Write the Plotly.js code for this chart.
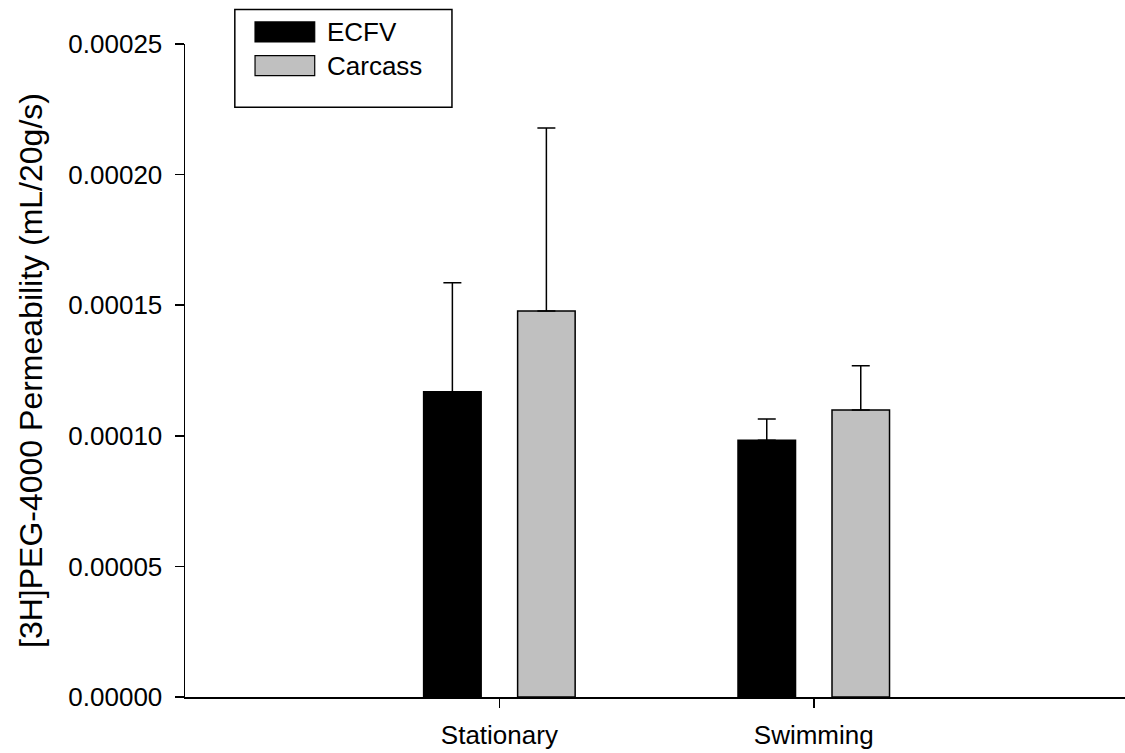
<!DOCTYPE html>
<html>
<head>
<meta charset="utf-8">
<script src="https://cdn.plot.ly/plotly-3.0.1.min.js"></script>
<style>
  html, body { margin: 0; padding: 0; background: #ffffff; }
  #chart { width: 1125px; height: 753px; }
</style>
</head>
<body>
<div id="chart"></div>
<script>
// Groups along the x axis
const groups = ['Stationary', 'Swimming'];

// Series names
const seriesNames = ['ECFV', 'Carcass'];

// Mean permeability (mL/20g/s)
const ecfvMean = [0.0001169, 0.0000983];
const carcassMean = [0.0001478, 0.0001099];

// Upper error (SEM) above each mean
const ecfvErr = [0.0000417, 0.0000081];
const carcassErr = [0.0000700, 0.0000169];

// Y axis tick values
const yTicks = [0, 0.00005, 0.00010, 0.00015, 0.00020, 0.00025];
const yTickText = ['0.00000', '0.00005', '0.00010', '0.00015', '0.00020', '0.00025'];

const FONT = 'Liberation Sans, Arial, sans-serif';
const fills = ['#000000', '#c0c0c0'];

function barTrace(name, y, err, fill) {
  return {
    type: 'bar',
    name: name,
    x: groups,
    y: y,
    marker: { color: fill, line: { color: '#000000', width: 1.5 } },
    error_y: {
      type: 'data',
      symmetric: false,
      array: err,
      arrayminus: err.map(() => 0),
      color: '#000000',
      thickness: 1.5,
      width: 9
    },
    showlegend: false,
    hoverinfo: 'skip'
  };
}

const traces = [
  barTrace(seriesNames[0], ecfvMean, ecfvErr, fills[0]),
  barTrace(seriesNames[1], carcassMean, carcassErr, fills[1])
];

// Legend box drawn in paper coordinates
const shapes = [
  { type: 'rect', xref: 'paper', yref: 'paper', x0: 0.053, x1: 0.284, y0: 0.903, y1: 1.053,
    line: { color: '#000000', width: 1.5 }, fillcolor: '#ffffff' }
];
const annotations = [];
const legendRows = [1.0185, 0.967];
seriesNames.forEach((nm, i) => {
  shapes.push({ type: 'rect', xref: 'paper', yref: 'paper',
    x0: 0.0745, x1: 0.138, y0: legendRows[i] - 0.0153, y1: legendRows[i] + 0.0153,
    line: { color: '#000000', width: 1.2 }, fillcolor: fills[i] });
  annotations.push({ xref: 'paper', yref: 'paper', x: 0.149, y: legendRows[i],
    xanchor: 'left', yanchor: 'middle', showarrow: false, text: nm,
    font: { family: FONT, size: 26, color: '#000000' } });
});

const layout = {
  width: 1125,
  height: 753,
  margin: { l: 185, r: 0, t: 44, b: 56 },
  paper_bgcolor: '#ffffff',
  plot_bgcolor: '#ffffff',
  barmode: 'group',
  bargap: 0.402,
  bargroupgap: 0.388,
  font: { family: FONT, size: 26, color: '#000000' },
  xaxis: {
    type: 'category',
    range: [-1, 1.99],
    showline: true, linecolor: '#000000', linewidth: 2,
    ticks: 'outside', ticklen: 9, tickwidth: 1.5, tickcolor: '#000000',
    ticklabelstandoff: 5,
    showgrid: false, zeroline: false,
    tickfont: { family: FONT, size: 26, color: '#000000' }
  },
  yaxis: {
    range: [0, 0.00025],
    tickvals: yTicks,
    ticktext: yTickText,
    showline: true, linecolor: '#000000', linewidth: 1.5,
    ticks: 'outside', ticklen: 9, tickwidth: 1.5, tickcolor: '#000000',
    ticklabelstandoff: 7,
    showgrid: false, zeroline: false,
    tickfont: { family: FONT, size: 26, color: '#000000' },
    title: { text: '[3H]PEG-4000 Permeability (mL/20g/s)', standoff: 16,
             font: { family: FONT, size: 32, color: '#000000' } }
  },
  shapes: shapes,
  annotations: annotations,
  showlegend: false
};

Plotly.newPlot('chart', traces, layout, { staticPlot: true, displayModeBar: false });
</script>
</body>
</html>
